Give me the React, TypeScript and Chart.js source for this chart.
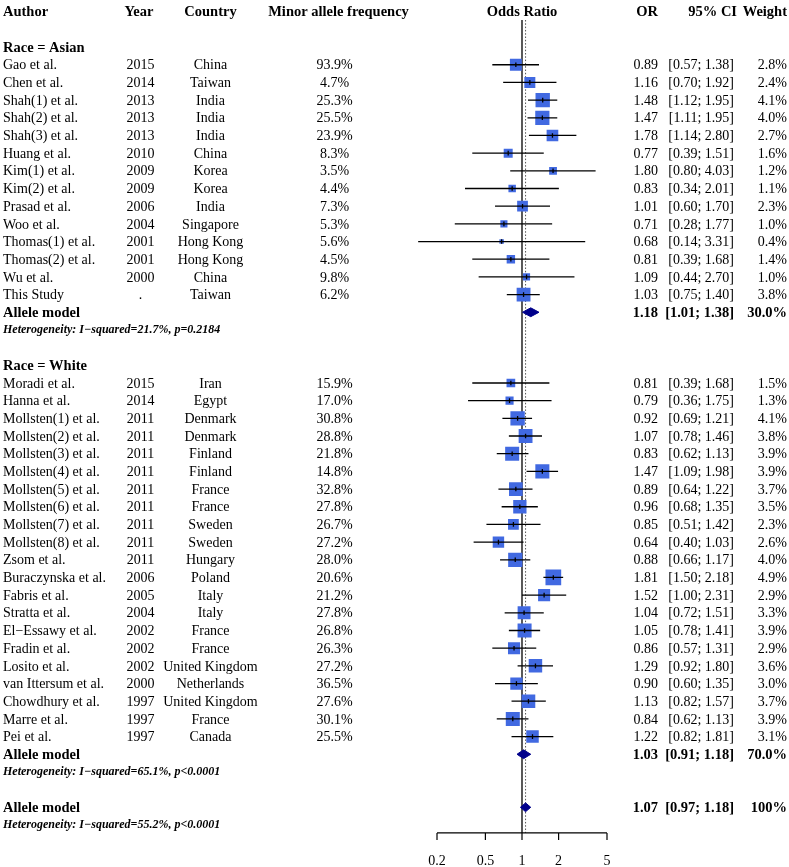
import React, { useEffect, useRef } from "react";
import { Chart, registerables } from "chart.js";

Chart.register(...registerables);

// ---------------- Data ----------------
const asianAuthors = ["Gao et al.", "Chen et al.", "Shah(1) et al.", "Shah(2) et al.", "Shah(3) et al.", "Huang et al.", "Kim(1) et al.", "Kim(2) et al.", "Prasad et al.", "Woo et al.", "Thomas(1) et al.", "Thomas(2) et al.", "Wu et al.", "This Study"];
const asianYears = ["2015", "2014", "2013", "2013", "2013", "2010", "2009", "2009", "2006", "2004", "2001", "2001", "2000", "."];
const asianCountries = ["China", "Taiwan", "India", "India", "India", "China", "Korea", "Korea", "India", "Singapore", "Hong Kong", "Hong Kong", "China", "Taiwan"];
const asianMAF = [93.9, 4.7, 25.3, 25.5, 23.9, 8.3, 3.5, 4.4, 7.3, 5.3, 5.6, 4.5, 9.8, 6.2];
const asianOR = [0.89, 1.16, 1.48, 1.47, 1.78, 0.77, 1.8, 0.83, 1.01, 0.71, 0.68, 0.81, 1.09, 1.03];
const asianLower = [0.57, 0.7, 1.12, 1.11, 1.14, 0.39, 0.8, 0.34, 0.6, 0.28, 0.14, 0.39, 0.44, 0.75];
const asianUpper = [1.38, 1.92, 1.95, 1.95, 2.8, 1.51, 4.03, 2.01, 1.7, 1.77, 3.31, 1.68, 2.7, 1.4];
const asianWeight = [2.8, 2.4, 4.1, 4.0, 2.7, 1.6, 1.2, 1.1, 2.3, 1.0, 0.4, 1.4, 1.0, 3.8];

const whiteAuthors = ["Moradi et al.", "Hanna et al.", "Mollsten(1) et al.", "Mollsten(2) et al.", "Mollsten(3) et al.", "Mollsten(4) et al.", "Mollsten(5) et al.", "Mollsten(6) et al.", "Mollsten(7) et al.", "Mollsten(8) et al.", "Zsom et al.", "Buraczynska et al.", "Fabris et al.", "Stratta et al.", "El\u2212Essawy et al.", "Fradin et al.", "Losito et al.", "van Ittersum et al.", "Chowdhury et al.", "Marre et al.", "Pei et al."];
const whiteYears = ["2015", "2014", "2011", "2011", "2011", "2011", "2011", "2011", "2011", "2011", "2011", "2006", "2005", "2004", "2002", "2002", "2002", "2000", "1997", "1997", "1997"];
const whiteCountries = ["Iran", "Egypt", "Denmark", "Denmark", "Finland", "Finland", "France", "France", "Sweden", "Sweden", "Hungary", "Poland", "Italy", "Italy", "France", "France", "United Kingdom", "Netherlands", "United Kingdom", "France", "Canada"];
const whiteMAF = [15.9, 17.0, 30.8, 28.8, 21.8, 14.8, 32.8, 27.8, 26.7, 27.2, 28.0, 20.6, 21.2, 27.8, 26.8, 26.3, 27.2, 36.5, 27.6, 30.1, 25.5];
const whiteOR = [0.81, 0.79, 0.92, 1.07, 0.83, 1.47, 0.89, 0.96, 0.85, 0.64, 0.88, 1.81, 1.52, 1.04, 1.05, 0.86, 1.29, 0.9, 1.13, 0.84, 1.22];
const whiteLower = [0.39, 0.36, 0.69, 0.78, 0.62, 1.09, 0.64, 0.68, 0.51, 0.4, 0.66, 1.5, 1.0, 0.72, 0.78, 0.57, 0.92, 0.6, 0.82, 0.62, 0.82];
const whiteUpper = [1.68, 1.75, 1.21, 1.46, 1.13, 1.98, 1.22, 1.35, 1.42, 1.03, 1.17, 2.18, 2.31, 1.51, 1.41, 1.31, 1.8, 1.35, 1.57, 1.13, 1.81];
const whiteWeight = [1.5, 1.3, 4.1, 3.8, 3.9, 3.9, 3.7, 3.5, 2.3, 2.6, 4.0, 4.9, 2.9, 3.3, 3.9, 2.9, 3.6, 3.0, 3.7, 3.9, 3.1];

const groupLabels = ["Race = Asian", "Race = White"];
const summaryLabels = ["Allele model", "Allele model", "Allele model"];
const summaryOR = [1.18, 1.03, 1.07];
const summaryLower = [1.01, 0.91, 0.97];
const summaryUpper = [1.38, 1.18, 1.18];
const summaryWeight = [30.0, 70.0, 100];
const heterogeneityLabels = [
  "Heterogeneity: I\u2212squared=21.7%, p=0.2184",
  "Heterogeneity: I\u2212squared=65.1%, p<0.0001",
  "Heterogeneity: I\u2212squared=55.2%, p<0.0001",
];
const headerLabels = ["Author", "Year", "Country", "Minor allele frequency", "Odds Ratio", "OR", "95% CI", "Weight"];
const axisTicks = [0.2, 0.5, 1, 2, 5];
const axisTickLabels = ["0.2", "0.5", "1", "2", "5"];
const nullValue = 1;
const overallValue = summaryOR[2];

// ---------------- Layout (rows) ----------------
const W = 789;
const H = 867;
const ROW_TOP = 11.7;
const ROW_H = 17.68;
const ROW_MAX = 48;
const X_MIN = 0.1;
const X_MAX = 10;
const X_LEFT = 400.4;
const X_RIGHT = 643.6;

const ROW_HEADER = 0;
const ROW_ASIAN_LABEL = 2;
const ROW_ASIAN_START = 3;
const ROW_ASIAN_SUM = ROW_ASIAN_START + asianAuthors.length; // 17
const ROW_WHITE_LABEL = ROW_ASIAN_SUM + 3; // 20
const ROW_WHITE_START = ROW_WHITE_LABEL + 1; // 21
const ROW_WHITE_SUM = ROW_WHITE_START + whiteAuthors.length; // 42
const ROW_OVERALL = ROW_WHITE_SUM + 3; // 45
const ROW_LINE_TOP = 0.47;
const ROW_AXIS = 46.45;
const ROW_AXIS_LABEL = 48;
const TEXT_DY = 1; // small optical shift for middle baseline

const summaryRows = [ROW_ASIAN_SUM, ROW_WHITE_SUM, ROW_OVERALL];

type Study = { author: string; year: string; country: string; maf: number; or: number; lo: number; hi: number; w: number; k: number };

const studies: Study[] = [
  ...asianAuthors.map((a, i) => ({ author: a, year: asianYears[i], country: asianCountries[i], maf: asianMAF[i], or: asianOR[i], lo: asianLower[i], hi: asianUpper[i], w: asianWeight[i], k: ROW_ASIAN_START + i })),
  ...whiteAuthors.map((a, i) => ({ author: a, year: whiteYears[i], country: whiteCountries[i], maf: whiteMAF[i], or: whiteOR[i], lo: whiteLower[i], hi: whiteUpper[i], w: whiteWeight[i], k: ROW_WHITE_START + i })),
];

const fmt2 = (v: number) => v.toFixed(2);
const fmtW = (v: number) => (v >= 100 ? "100%" : v.toFixed(1) + "%");
const fmtCI = (lo: number, hi: number) => `[${fmt2(lo)}; ${fmt2(hi)}]`;

const FONT = '"Liberation Serif", "Times New Roman", serif';
const F_REG = `14px ${FONT}`;
const F_BOLD = `bold 14.5px ${FONT}`;
const F_HET = `italic bold 12px ${FONT}`;

const SQUARE_K = 7.1;
const SQUARE_COLOR = "rgb(65,105,225)";
const DIAMOND_COLOR = "#00008b";
const DIAMOND_H = 0.25;

const textPlugin = {
  id: "forestText",
  afterDatasetsDraw(chart: any) {
    const ctx: CanvasRenderingContext2D = chart.ctx;
    const xs = chart.scales.x;
    const ys = chart.scales.y;
    const Y = (k: number) => ys.getPixelForValue(k);
    ctx.save();
    ctx.fillStyle = "#000";
    ctx.textBaseline = "middle";
    const txt = (s: string, x: number, k: number, align: CanvasTextAlign, font: string) => {
      ctx.font = font;
      ctx.textAlign = align;
      ctx.fillText(s, x, Y(k) + TEXT_DY);
    };

    // header
    txt(headerLabels[0], 3, ROW_HEADER, "left", F_BOLD);
    txt(headerLabels[1], 139, ROW_HEADER, "center", F_BOLD);
    txt(headerLabels[2], 210.5, ROW_HEADER, "center", F_BOLD);
    txt(headerLabels[3], 338.5, ROW_HEADER, "center", F_BOLD);
    txt(headerLabels[4], xs.getPixelForValue(nullValue), ROW_HEADER, "center", F_BOLD);
    txt(headerLabels[5], 658, ROW_HEADER, "right", F_BOLD);
    txt(headerLabels[6], 737, ROW_HEADER, "right", F_BOLD);
    txt(headerLabels[7], 787, ROW_HEADER, "right", F_BOLD);

    // group labels
    txt(groupLabels[0], 3, ROW_ASIAN_LABEL, "left", F_BOLD);
    txt(groupLabels[1], 3, ROW_WHITE_LABEL, "left", F_BOLD);

    // studies
    for (const s of studies) {
      txt(s.author, 3, s.k, "left", F_REG);
      txt(s.year, 140.5, s.k, "center", F_REG);
      txt(s.country, 210.5, s.k, "center", F_REG);
      txt(s.maf.toFixed(1) + "%", 334.5, s.k, "center", F_REG);
      txt(fmt2(s.or), 658, s.k, "right", F_REG);
      txt(fmtCI(s.lo, s.hi), 734, s.k, "right", F_REG);
      txt(fmtW(s.w), 787, s.k, "right", F_REG);
    }

    // summaries
    summaryRows.forEach((k, i) => {
      txt(summaryLabels[i], 3, k, "left", F_BOLD);
      txt(fmt2(summaryOR[i]), 658, k, "right", F_BOLD);
      txt(fmtCI(summaryLower[i], summaryUpper[i]), 734, k, "right", F_BOLD);
      txt(fmtW(summaryWeight[i]), 787, k, "right", F_BOLD);
      txt(heterogeneityLabels[i], 3, k + 0.95, "left", F_HET);
    });

    // x axis (drawn through the x scale)
    const ay = Y(ROW_AXIS);
    ctx.strokeStyle = "#000";
    ctx.lineWidth = 1.2;
    ctx.beginPath();
    ctx.moveTo(xs.getPixelForValue(axisTicks[0]), ay);
    ctx.lineTo(xs.getPixelForValue(axisTicks[axisTicks.length - 1]), ay);
    for (const t of axisTicks) {
      const px = xs.getPixelForValue(t);
      ctx.moveTo(px, ay);
      ctx.lineTo(px, ay + 7);
    }
    ctx.stroke();
    axisTicks.forEach((t, i) => txt(axisTickLabels[i], xs.getPixelForValue(t), ROW_AXIS_LABEL, "center", F_REG));
    ctx.restore();
  },
};

export default function App() {
  const ref = useRef<HTMLCanvasElement>(null);

  useEffect(() => {
    const canvas = ref.current!;
    const ciData: any[] = [];
    for (const s of studies) {
      ciData.push({ x: s.lo, y: s.k }, { x: s.hi, y: s.k }, { x: NaN, y: NaN });
    }
    const diamonds = summaryRows.map((k, i) => ({
      type: "line" as const,
      data: [
        { x: summaryLower[i], y: k },
        { x: summaryOR[i], y: k - DIAMOND_H },
        { x: summaryUpper[i], y: k },
        { x: summaryOR[i], y: k + DIAMOND_H },
        { x: summaryLower[i], y: k },
      ],
      borderColor: DIAMOND_COLOR,
      backgroundColor: DIAMOND_COLOR,
      borderWidth: 1,
      fill: "shape",
      pointRadius: 0,
      tension: 0,
      order: 1,
    }));

    const chart = new Chart(canvas, {
      type: "scatter",
      data: {
        datasets: [
          {
            type: "line",
            data: [{ x: nullValue, y: ROW_LINE_TOP }, { x: nullValue, y: ROW_AXIS }],
            borderColor: "#000",
            borderWidth: 1.3,
            pointRadius: 0,
            fill: false,
            order: 6,
          },
          {
            type: "line",
            data: [{ x: overallValue, y: ROW_LINE_TOP }, { x: overallValue, y: ROW_AXIS }],
            borderColor: "#555",
            borderWidth: 1,
            borderDash: [1.5, 1.8],
            pointRadius: 0,
            fill: false,
            order: 5,
          },
          {
            data: studies.map((s) => ({ x: s.or, y: s.k, w: s.w })),
            pointStyle: "rect",
            pointRadius: (c: any) => (c.raw ? (SQUARE_K * Math.sqrt(c.raw.w)) / Math.SQRT2 : 0),
            backgroundColor: SQUARE_COLOR,
            borderWidth: 0,
            order: 4,
          },
          {
            type: "line",
            data: ciData,
            borderColor: "#000",
            borderWidth: 1.3,
            pointRadius: 0,
            spanGaps: false,
            fill: false,
            order: 3,
          },
          {
            data: studies.map((s) => ({ x: s.or, y: s.k })),
            pointStyle: "line",
            rotation: 90,
            pointRadius: 2.3,
            borderColor: "#000",
            borderWidth: 1.3,
            order: 2,
          },
          ...diamonds,
        ] as any,
      },
      options: {
        animation: false,
        responsive: false,
        devicePixelRatio: 1,
        events: [],
        layout: {
          autoPadding: false,
          padding: {
            left: X_LEFT,
            right: W - X_RIGHT,
            top: ROW_TOP,
            bottom: H - (ROW_TOP + ROW_MAX * ROW_H),
          },
        },
        plugins: { legend: { display: false }, tooltip: { enabled: false }, title: { display: false } },
        scales: {
          x: { type: "logarithmic", min: X_MIN, max: X_MAX, display: false },
          y: { type: "linear", min: 0, max: ROW_MAX, reverse: true, display: false },
        },
      } as any,
      plugins: [textPlugin],
    });
    return () => chart.destroy();
  }, []);

  return (
    <div style={{ position: "absolute", left: 0, top: 0, width: W, height: H, background: "#fff" }}>
      <canvas ref={ref} width={W} height={H} style={{ display: "block", width: W, height: H }} />
    </div>
  );
}
